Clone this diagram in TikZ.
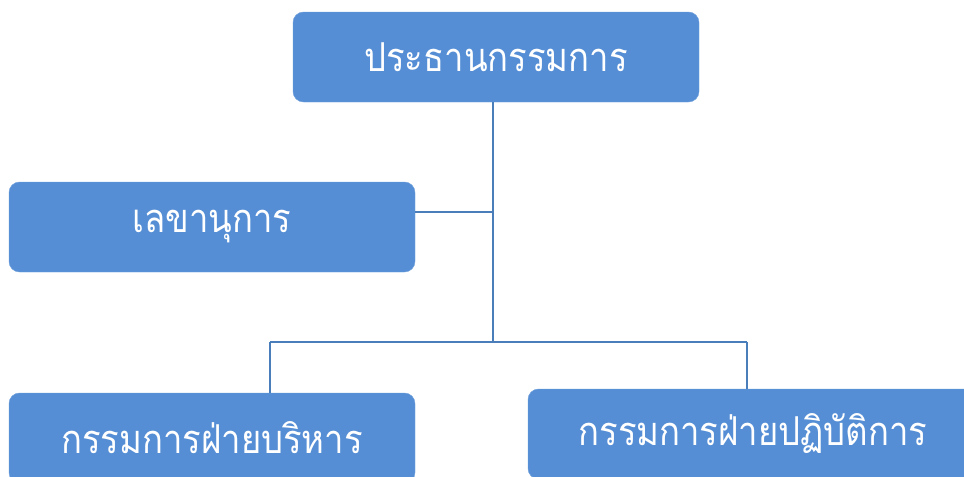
\documentclass[tikz,border=0pt]{standalone}
\usepackage{fontspec}
\newfontfamily\thaifont[Script=Thai, FakeStretch=0.87]{Loma}
\usetikzlibrary{calc}
\definecolor{boxblue}{HTML}{558ED5}
\definecolor{lineblue}{HTML}{4A7EBB}
\tikzset{
  orgbox/.style={fill=boxblue, draw=boxblue!85!white, rounded corners=9pt,
    minimum height=90*0.03cm, inner sep=0pt, text=white,
    font=\thaifont\fontsize{34}{40}\selectfont},
  orgline/.style={draw=lineblue, line width=1.5pt}
}

\begin{document}
\begin{tikzpicture}[x=0.03cm, y=-0.03cm]
\useasboundingbox (0,0) rectangle (964,476);

% boxes
\node[orgbox, minimum width=406*0.03cm] (chair) at (496,57) {ประธานกรรมการ};
\node[orgbox, minimum width=406*0.03cm] (secr) at (212,227) {เลขานุการ};
\node[orgbox, minimum width=406*0.03cm] (exec) at (212,438) {กรรมการฝ่ายบริหาร};
\node[orgbox, minimum width=450*0.03cm] (oper) at (753,434) {กรรมการฝ่ายปฏิบัติการ};

% junctions
\coordinate (top) at (493,102);
\coordinate (mid) at (493,212);
\coordinate (split) at (493,342);
\coordinate (left) at (270,342);
\coordinate (right) at (747,342);

% lines
\draw[orgline] (top) -- (split);
\draw[orgline] (secr.east |- mid) -- (mid);
\draw[orgline] (left) -- (right);
\draw[orgline] (left) -- (left |- exec.north);
\draw[orgline] (right) -- (right |- oper.north);
\end{tikzpicture}
\end{document}
